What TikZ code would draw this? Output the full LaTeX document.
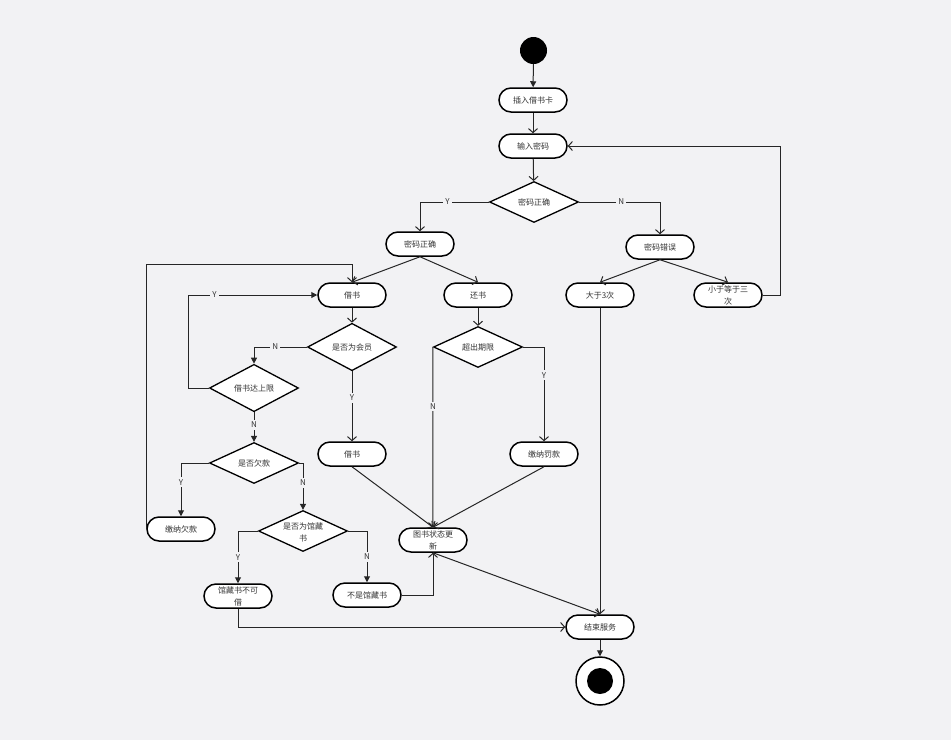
\documentclass[tikz,border=0pt]{standalone}
\usepackage{fontspec}
\newfontfamily\cjk{Noto Sans CJK SC}
\usetikzlibrary{arrows.meta,shapes.geometric}
\definecolor{bg}{HTML}{F2F2F4}
\definecolor{txt}{HTML}{333333}
\tikzset{
  act/.style={draw=black, line width=1.5pt, fill=white, rounded corners=12pt,
    minimum width=68pt, minimum height=24pt, inner sep=0pt, align=center,
    font=\cjk\fontsize{8}{12}\selectfont, text=txt},
  dec/.style={diamond, draw=black, line width=1.3pt, fill=white,
    minimum width=89pt, minimum height=41pt, inner sep=0pt, align=center,
    font=\cjk\fontsize{8}{12}\selectfont, text=txt},
  dectxt/.style={inner sep=0pt, align=center,
    font=\cjk\fontsize{8}{12}\selectfont, text=txt},
  lbl/.style={fill=bg, inner sep=2pt, font=\cjk\fontsize{8}{10}\selectfont, text=txt},
  con/.style={draw=black!85, line width=1pt},
  oa/.style={con, -{Straight Barb[length=4pt,width=9pt]}},
  fa/.style={con, -{Triangle[length=6pt,width=6pt]}},
}
\begin{document}
\begin{tikzpicture}[x=1pt,y=-1pt]
\fill[bg] (0,0) rectangle (951,740);
\useasboundingbox (0,0) rectangle (951,740);

% nodes
\node[circle, fill=black, minimum size=27pt, inner sep=0pt] (start) at (533.5,50.5) {};
\node[act] (card) at (533,100) {插入借书卡};
\node[act] (pwd) at (533,146) {输入密码};
\node[dec] (d1) at (534,202) {密码正确};
\node[act] (ok) at (420,244) {密码正确};
\node[act] (err) at (660,247) {密码错误};
\node[act] (borrow) at (352,295) {借书};
\node[act] (ret) at (478,295) {还书};
\node[act] (gt3) at (600,295) {大于3次};
\node[act] (le3) at (728,295) {小于等于三\\次};
\node[dec] (d2) at (352,347) {是否为会员};
\node[dec] (d6) at (478,347) {超出期限};
\node[dec] (d3) at (254,388) {借书达上限};
\node[dec] (d4) at (254,463) {是否欠款};
\node[act] (b2) at (352,454) {借书};
\node[act] (fine) at (544,454) {缴纳罚款};
\node[act] (pay) at (181,529) {缴纳欠款};
\node[dec] (d5) at (303,531) {};
\node[dectxt] (d5t) at (303,532) {是否为馆藏\\书};
\node[act] (upd) at (433,540) {图书状态更\\新};
\node[act] (nb) at (238,596) {馆藏书不可\\借};
\node[act] (nc) at (367,595) {不是馆藏书};
\node[act] (done) at (600,627) {结束服务};
\node[circle, draw=black, line width=1.5pt, fill=white, minimum size=48pt, inner sep=0pt] (fin) at (600,681) {};
\node[circle, fill=black, minimum size=26pt, inner sep=0pt] (finin) at (600,681) {};

% connectors
\draw[fa] (start) -- (card);
\draw[oa] (card) -- (pwd);
\draw[oa] (pwd) -- (d1);
\draw[oa] (d1.west) -| node[lbl, pos=0.3] {Y} (ok.north);
\draw[oa] (d1.east) -| node[lbl, pos=0.26] {N} (err.north);
\draw[oa] (ok.south) -- (borrow.north);
\draw[oa] (ok.south) -- (ret.north);
\draw[oa] (err.south) -- (gt3.north);
\draw[oa] (err.south) -- (le3.north);
\draw[oa] (le3.east) -- ++(18,0) |- (pwd.east);
\draw[oa] (borrow) -- (d2);
\draw[fa] (d2.west) -| node[lbl, pos=0.3] {N} (d3.north);
\draw[fa] (d3.west) -- ++(-20,0) |- node[lbl, pos=0.6] {Y} (borrow.west);
\draw[fa] (d3.south) -- node[lbl, pos=0.43] {N} (d4.north);
\draw[fa] (d4.west) -| node[lbl, pos=0.68] {Y} (pay.north);
\draw[fa] (d4.east) -| node[lbl, pos=0.71] {N} (d5.north);
\draw[oa] (pay.west) -- ++(0,-265) -| (borrow.north);
\draw[oa] (d2.south) -- node[lbl, pos=0.38] {Y} (b2.north);
\draw[oa] (ret) -- (d6);
\draw[oa] (d6.east) -| node[lbl, pos=0.65] {Y} (fine.north);
\draw[oa] (d6.west) -- node[lbl, pos=0.33] {N} (upd.north);
\draw[oa] (b2.south) -- (upd.north);
\draw[oa] (fine.south) -- (upd.north);
\draw[fa] (d5.west) -| node[lbl, pos=0.75] {Y} (nb.north);
\draw[fa] (d5.east) -| node[lbl, pos=0.75] {N} (nc.north);
\draw[oa] (nc.east) -| (upd.south);
\draw[oa] (upd.south) -- (done.north);
\draw[oa] (gt3.south) -- (done.north);
\draw[oa] (nb.south) |- (done.west);
\draw[fa] (done.south) -- (fin.north);
\end{tikzpicture}
\end{document}
